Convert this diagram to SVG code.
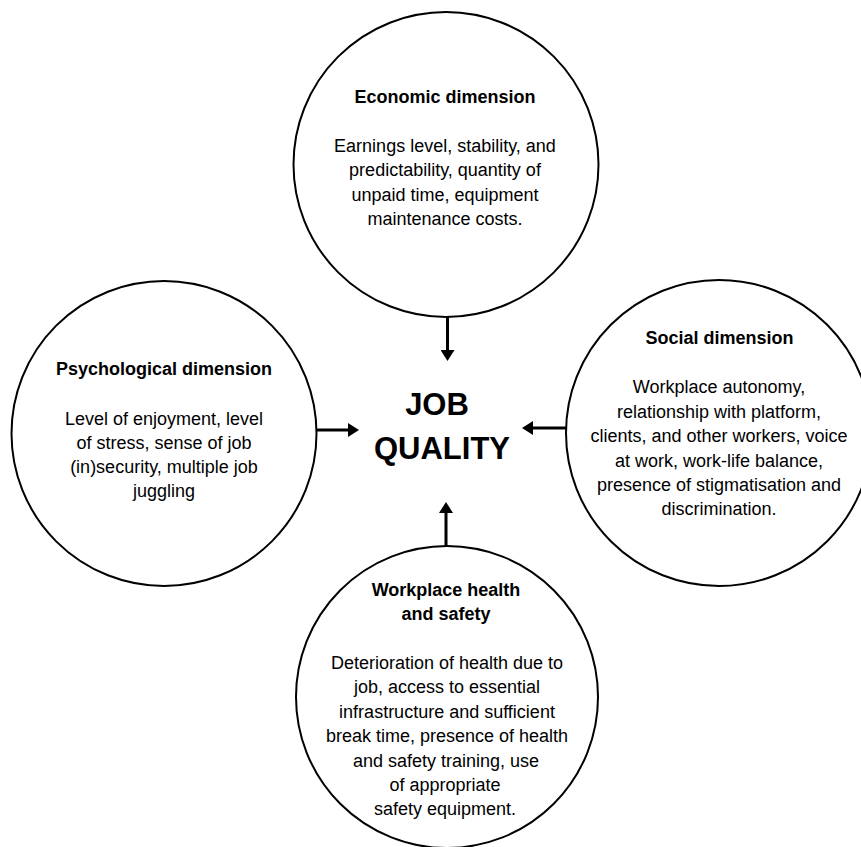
<svg xmlns="http://www.w3.org/2000/svg" width="861" height="847" viewBox="0 0 861 847">
  <style>
    .ring { fill: #ffffff; stroke: #000000; stroke-width: 2; }
    .head { font-family: "Liberation Sans", Arial, sans-serif; font-size: 18px; font-weight: bold; fill: #000000; text-anchor: middle; }
    .body { font-family: "Liberation Sans", Arial, sans-serif; font-size: 18px; fill: #000000; text-anchor: middle; }
    .core { font-family: "Liberation Sans", Arial, sans-serif; font-size: 31px; font-weight: bold; fill: #000000; text-anchor: middle; }
    .link { stroke: #000000; stroke-width: 3; fill: none; marker-end: url(#arrow); }
  </style>
  <defs>
    <marker id="arrow" markerUnits="userSpaceOnUse" markerWidth="12" markerHeight="14" refX="2" refY="7" orient="auto">
      <path d="M0,0 L11,7 L0,14 Z" fill="#000000"/>
    </marker>
  </defs>
  <rect width="861" height="847" fill="#ffffff"/>

  <!-- Economic dimension -->
  <g id="economic">
    <circle class="ring" cx="446" cy="164.5" r="152.5"/>
    <text class="head" x="445" y="103">Economic dimension</text>
    <text class="body" x="445" y="152">Earnings level, stability, and</text>
    <text class="body" x="445" y="176">predictability, quantity of</text>
    <text class="body" x="445" y="200.5">unpaid time, equipment</text>
    <text class="body" x="445" y="225">maintenance costs.</text>
  </g>

  <!-- Psychological dimension -->
  <g id="psychological">
    <circle class="ring" cx="164" cy="433.5" r="152.5"/>
    <text class="head" x="164" y="375">Psychological dimension</text>
    <text class="body" x="164" y="424.5">Level of enjoyment, level</text>
    <text class="body" x="164" y="448.5">of stress, sense of job</text>
    <text class="body" x="164" y="473">(in)security, multiple job</text>
    <text class="body" x="164" y="497">juggling</text>
  </g>

  <!-- Social dimension -->
  <g id="social">
    <circle class="ring" cx="719" cy="433" r="153"/>
    <text class="head" x="719.5" y="344">Social dimension</text>
    <text class="body" x="719" y="393">Workplace autonomy,</text>
    <text class="body" x="719" y="417.5">relationship with platform,</text>
    <text class="body" x="719" y="442">clients, and other workers, voice</text>
    <text class="body" x="719" y="466.5">at work, work-life balance,</text>
    <text class="body" x="719" y="491">presence of stigmatisation and</text>
    <text class="body" x="719" y="515">discrimination.</text>
  </g>

  <!-- Workplace health and safety -->
  <g id="health-safety">
    <circle class="ring" cx="447" cy="697" r="151"/>
    <text class="head" x="446" y="596">Workplace health</text>
    <text class="head" x="446" y="620">and safety</text>
    <text class="body" x="447" y="668.5">Deterioration of health due to</text>
    <text class="body" x="447" y="693">job, access to essential</text>
    <text class="body" x="447" y="717.5">infrastructure and sufficient</text>
    <text class="body" x="447" y="742">break time, presence of health</text>
    <text class="body" x="446" y="766.5">and safety training, use</text>
    <text class="body" x="445" y="791">of appropriate</text>
    <text class="body" x="445" y="815">safety equipment.</text>
  </g>

  <!-- Central label -->
  <g id="job-quality">
    <text class="core" x="437" y="415">JOB</text>
    <text class="core" x="442" y="459">QUALITY</text>
  </g>

  <!-- Connectors: each dimension points to the centre -->
  <g id="connectors">
    <line class="link" x1="447.5" y1="317" x2="447.5" y2="352"/>
    <line class="link" x1="316" y1="430" x2="350" y2="430"/>
    <line class="link" x1="566" y1="428" x2="531" y2="428"/>
    <line class="link" x1="446" y1="546" x2="446" y2="511"/>
  </g>
</svg>
